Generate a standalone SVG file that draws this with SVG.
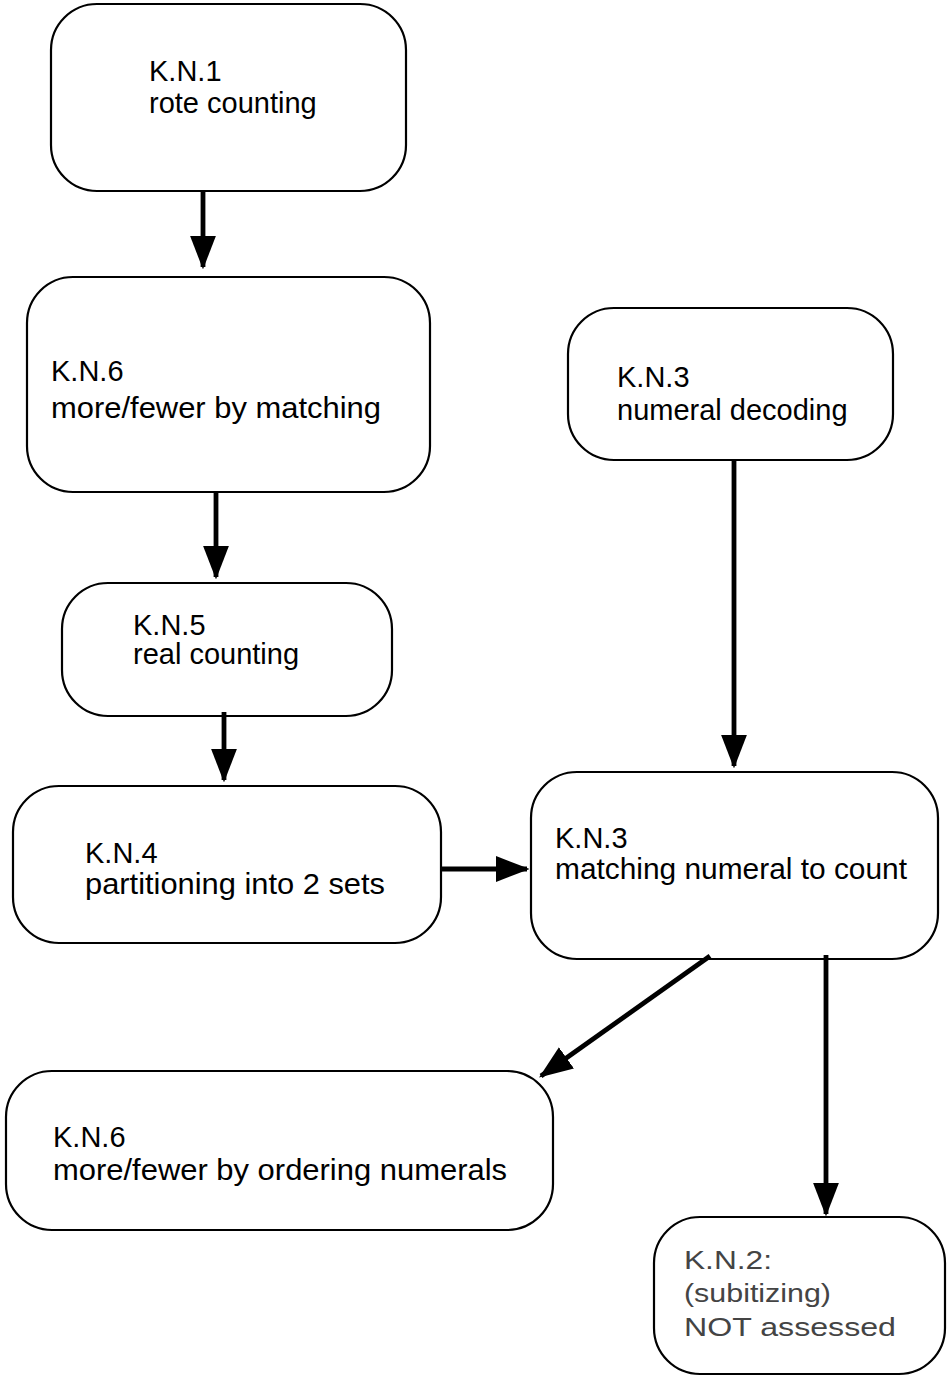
<svg xmlns="http://www.w3.org/2000/svg" width="951" height="1376" viewBox="0 0 951 1376">
<style>
.box{fill:#fff;stroke:#000;stroke-width:2.2}
.t{font-family:"Liberation Sans",Arial,sans-serif;font-size:29px;fill:#000}
.g{font-family:"Liberation Sans",Arial,sans-serif;font-size:26px;fill:#444}
.c{stroke:#000;stroke-width:4.8;fill:none}
</style>
<defs>
<marker id="ah" markerWidth="7" markerHeight="7" refX="6.5" refY="3.5" orient="auto" markerUnits="strokeWidth" viewBox="0 0 7 7">
<path d="M0,0.8 L7,3.5 L0,6.2 Z" fill="#000"/>
</marker>
</defs>
<rect width="951" height="1376" fill="#fff"/>
<g id="n1"><rect class="box" x="51" y="4" width="355" height="187" rx="46"/>
<text class="t" x="149" y="81">K.N.1</text><text class="t" x="149" y="113">rote counting</text></g>
<g id="n2"><rect class="box" x="27" y="277" width="403" height="215" rx="46"/>
<text class="t" x="51" y="381">K.N.6</text><text class="t" x="51" y="418" textLength="330" lengthAdjust="spacingAndGlyphs">more/fewer by matching</text></g>
<g id="n3"><rect class="box" x="568" y="308" width="325" height="152" rx="46"/>
<text class="t" x="617" y="387">K.N.3</text><text class="t" x="617" y="420">numeral decoding</text></g>
<g id="n4"><rect class="box" x="62" y="583" width="330" height="133" rx="46"/>
<text class="t" x="133" y="635">K.N.5</text><text class="t" x="133" y="664">real counting</text></g>
<g id="n5"><rect class="box" x="13" y="786" width="428" height="157" rx="46"/>
<text class="t" x="85" y="863">K.N.4</text><text class="t" x="85" y="894" textLength="300" lengthAdjust="spacingAndGlyphs">partitioning into 2 sets</text></g>
<g id="n6"><rect class="box" x="531" y="772" width="407" height="187" rx="46"/>
<text class="t" x="555" y="848">K.N.3</text><text class="t" x="555" y="879" textLength="352" lengthAdjust="spacingAndGlyphs">matching numeral to count</text></g>
<g id="n7"><rect class="box" x="6" y="1071" width="547" height="159" rx="46"/>
<text class="t" x="53" y="1147">K.N.6</text><text class="t" x="53" y="1180" textLength="454" lengthAdjust="spacingAndGlyphs">more/fewer by ordering numerals</text></g>
<g id="n8"><rect class="box" x="654" y="1217" width="291" height="157" rx="46"/>
<text class="g" x="684" y="1269" textLength="88" lengthAdjust="spacingAndGlyphs">K.N.2:</text><text class="g" x="684" y="1302" textLength="147" lengthAdjust="spacingAndGlyphs">(subitizing)</text><text class="g" x="684" y="1336" textLength="212" lengthAdjust="spacingAndGlyphs">NOT assessed</text></g>
<g id="connectors">
<line class="c" x1="203" y1="191" x2="203" y2="267" marker-end="url(#ah)"/>
<line class="c" x1="216" y1="492" x2="216" y2="577" marker-end="url(#ah)"/>
<line class="c" x1="224" y1="712" x2="224" y2="780" marker-end="url(#ah)"/>
<line class="c" x1="734" y1="460" x2="734" y2="766" marker-end="url(#ah)"/>
<line class="c" x1="441" y1="869" x2="527" y2="869" marker-end="url(#ah)"/>
<line class="c" x1="710" y1="956" x2="541" y2="1076" marker-end="url(#ah)"/>
<line class="c" x1="826" y1="955" x2="826" y2="1214" marker-end="url(#ah)"/>
</g>
</svg>
